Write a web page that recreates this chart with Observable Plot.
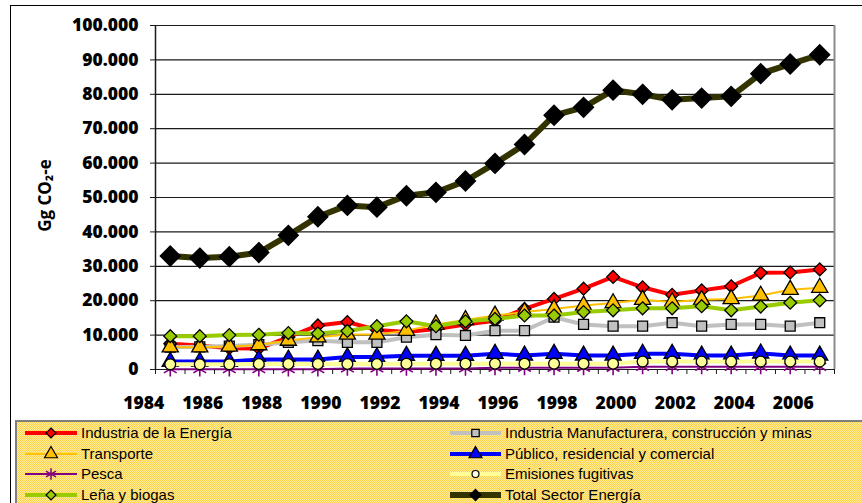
<!DOCTYPE html>
<html><head><meta charset="utf-8">
<script src="https://cdn.jsdelivr.net/npm/d3@7"></script>
<script src="https://cdn.jsdelivr.net/npm/@observablehq/plot@0.6"></script>
<style>
body{margin:0;background:#fff;}
#wrap{position:relative;width:862px;height:503px;overflow:hidden;background:#fff;}
#border{position:absolute;left:10px;top:5px;width:900px;height:600px;border:1.5px solid #000;}
#chart{position:absolute;left:0;top:0;}
#legend{position:absolute;left:15px;top:420px;width:900px;height:100px;border-top:2px solid #7f7f7f;border-left:2px solid #7f7f7f;
 background:repeating-conic-gradient(#FFD24A 0 25%, #FFEC9C 0 50%) 0 0/2px 2px;font-family:"Liberation Sans",Arial,sans-serif;font-size:15px;color:#000;}
.item{position:absolute;height:20px;line-height:20px;white-space:nowrap;}
.item svg{position:absolute;left:0;top:0;}
.item span{position:absolute;top:0;}
</style>
</head><body>
<div id="wrap"><div id="border"></div><div id="chart"></div><div id="legend"></div></div>
<script>
const years = [1985,1986,1987,1988,1989,1990,1991,1992,1993,1994,1995,1996,1997,1998,1999,2000,2001,2002,2003,2004,2005,2006,2007];
const energia = [7500,7000,6200,6100,9400,12800,13800,11500,10900,11800,13100,14200,17600,20500,23500,26900,23900,21700,23000,24200,28100,28200,29100];
const manufacturera = [6500,6600,6800,7200,7900,8400,7900,7900,9400,10100,9900,11300,11300,15200,13100,12600,12600,13600,12600,13100,13100,12600,13600];
const transporte = [6500,6500,6700,7100,8400,9400,10200,10200,11300,13100,14400,15700,16700,17600,18600,19300,20300,19600,20300,20500,21500,23200,23800];
const publico = [2300,2300,2300,2900,2900,2900,3600,3600,4000,4000,4000,4600,4100,4600,4100,4100,4600,4600,4100,4100,4700,4100,4100];
const pesca = [100,100,100,100,100,100,300,300,300,300,300,500,500,500,500,500,800,800,800,800,800,800,800];
const fugitivas = [1500,1500,1500,1600,1600,1600,1600,1600,1700,1700,1700,1700,1700,1700,1700,1700,2300,2300,2300,2300,2300,2300,2300];
const lena = [9700,9700,10000,10100,10600,10500,11200,12600,14000,12600,14000,14700,15700,15700,16700,17200,17800,17800,18400,17200,18300,19400,20100];
const total = [33000,32400,32800,34000,39000,44400,47700,47200,50500,51500,54800,59900,65400,73900,76200,81200,80000,78400,78900,79400,86000,88800,91500];
const yTicks = [0,10000,20000,30000,40000,50000,60000,70000,80000,90000,100000];
const xLabels = [1984,1986,1988,1990,1992,1994,1996,1998,2000,2002,2004,2006];
const seriesNames = ["Industria de la Energía","Industria Manufacturera, construcción y minas","Transporte","Público, residencial y comercial","Pesca","Emisiones fugitivas","Leña y biogas","Total Sector Energía"];
const yTitle = "Gg CO₂-e";

const styles = [
 {v:energia, line:"#FF0000", lw:4, sym:"diamond2", fill:"#FF0000", stroke:"#000", r:5.8, lr:4.5},
 {v:manufacturera, line:"#C0C0C0", lw:4, sym:"square", fill:"#C0C0C0", stroke:"#000", r:5.6, lr:4.2},
 {v:transporte, line:"#FFC000", lw:2, sym:"triangle", fill:"#FFC000", stroke:"#000", r:6, lr:4.8},
 {v:publico, line:"#0000FF", lw:4, sym:"triangle", fill:"#0000FF", stroke:"#000", r:6, lr:4.8},
 {v:pesca, line:"#800080", lw:2, sym:"asterisk", fill:"none", stroke:"#800080", r:7, lr:5.5},
 {v:fugitivas, line:"#FFFF99", lw:4, sym:"circle", fill:"#FFFF99", stroke:"#000", r:5.4, lr:3.5},
 {v:lena, line:"#99CC00", lw:4, sym:"diamond2", fill:"#99CC00", stroke:"#000", r:5.8, lr:4.5},
 {v:total, line:"#333300", lw:6, sym:"diamond2", fill:"#000", stroke:"#000", r:9, lr:5}
];

const nf = d3.formatLocale({decimal:",", thousands:".", grouping:[3], currency:["",""]}).format(",");

const seriesMarks = [];
styles.forEach((s, i) => {
  const data = years.map((y, j) => ({year:y, value:s.v[j], name:seriesNames[i]}));
  seriesMarks.push(Plot.line(data, {x:"year", y:"value", stroke:s.line, strokeWidth:s.lw, strokeLinejoin:"round"}));
  seriesMarks.push(Plot.dot(data, {x:"year", y:"value", symbol:s.sym, r:s.r, fill:s.fill, stroke:s.stroke, strokeWidth:s.sym==="asterisk"?1.6:1.3}));
});

const xTickMarks = d3.range(1984.5, 2008, 1);

const plot = Plot.plot({
  width:862, height:420,
  marginLeft:155, marginRight:28, marginTop:25, marginBottom:51,
  x:{domain:[1984.5,2007.5]},
  y:{domain:[0,100000]},
  style:{fontFamily:"'Open Sans', sans-serif", background:"transparent", overflow:"visible"},
  marks:[
    Plot.gridY(yTicks, {stroke:"#1a1a1a", strokeOpacity:1, strokeWidth:1.2}),
    Plot.ruleX([2007.5], {stroke:"#8c8c8c", strokeWidth:2}),
    ...seriesMarks,
    Plot.ruleX([1984.5], {stroke:"#1a1a1a", strokeWidth:1.5}),
    Plot.axisY({ticks:yTicks, tickSize:5, tickPadding:12, tickFormat:nf, fontSize:17.5, fontWeight:800, label:null, stroke:"#1a1a1a"}),
    Plot.axisX({ticks:xTickMarks, tickSize:5, tickFormat:() => "", label:null, stroke:"#1a1a1a"}),
    Plot.axisX({ticks:xLabels, tickSize:0, tickPadding:27, dx:3, tickFormat:d => String(d), fontSize:17.5, fontWeight:800, label:null}),
    Plot.text([yTitle], {frameAnchor:"left", dx:-110, dy:-2, rotate:-90, textAnchor:"middle", fontSize:17, fontWeight:"bold"})
  ]
});
document.getElementById("chart").appendChild(plot);

// legend
const legend = document.getElementById("legend");
const order = [0,2,4,6,1,3,5,7];
const rowsY = [1, 21.5, 42, 62.5];
order.forEach((si, k) => {
  const s = styles[si];
  const col = k < 4 ? 0 : 1;
  const row = k % 4;
  const left = col === 0 ? 8 : 433;
  const lineLen = col === 0 ? 52 : 51;
  const div = document.createElement("div");
  div.className = "item";
  div.style.left = left + "px";
  div.style.top = rowsY[row] + "px";
  const svg = d3.create("svg").attr("width", lineLen + 4).attr("height", 20);
  svg.append("line").attr("x1",0).attr("x2",lineLen).attr("y1",10).attr("y2",10)
    .attr("stroke", s.line).attr("stroke-width", s.lw);
  const symMap = {diamond2:d3.symbolDiamond2, square:d3.symbolSquare, triangle:d3.symbolTriangle, asterisk:d3.symbolAsterisk, circle:d3.symbolCircle};
  const size = Math.PI * s.lr * s.lr;
  svg.append("path").attr("d", d3.symbol(symMap[s.sym], size)())
    .attr("transform", `translate(${lineLen/2},10)`)
    .attr("fill", si === 5 ? "#FFFFE0" : s.fill).attr("stroke", s.stroke).attr("stroke-width", s.sym === "asterisk" ? 1.5 : 1.2);
  div.appendChild(svg.node());
  const span = document.createElement("span");
  span.style.left = (lineLen + 4) + "px";
  span.textContent = seriesNames[si];
  div.appendChild(span);
  legend.appendChild(div);
});
</script>
</body></html>
